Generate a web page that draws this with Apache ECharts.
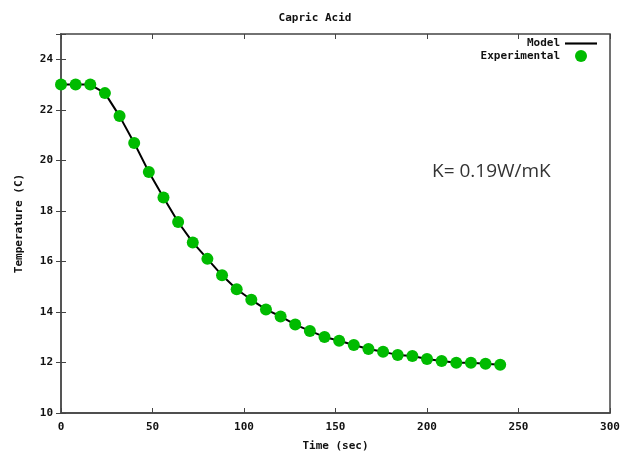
<!DOCTYPE html>
<html><head><meta charset="utf-8">
<script src="https://cdn.jsdelivr.net/npm/echarts@6/dist/echarts.min.js"></script>
<style>html,body{margin:0;padding:0;background:#fff}#c{width:630px;height:457px}</style>
</head><body><div id="c"></div>
<script>
const timeSec = [0,8,16,24,32,40,48,56,64,72,80,88,96,104,112,120,128,136,144,152,160,168,176,184,192,200,208,216,224,232,240];
const experimental = [23.0,23.0,23.0,22.66,21.75,20.69,19.54,18.53,17.56,16.75,16.1,15.45,14.9,14.48,14.1,13.82,13.5,13.25,13.01,12.86,12.69,12.53,12.42,12.3,12.26,12.14,12.06,11.99,11.99,11.95,11.91];
const model = [23.0,23.0,23.0,22.66,21.75,20.69,19.54,18.53,17.56,16.75,16.1,15.45,14.9,14.48,14.1,13.82,13.5,13.25,13.01,12.86,12.69,12.53,12.42,12.3,12.26,12.14,12.06,11.99,11.99,11.95,11.91];
const xTicks = [0,50,100,150,200,250,300];
const yTicks = [10,12,14,16,18,20,22,24];

const mono = '"DejaVu Sans Mono", "Liberation Mono", monospace';
const chart = echarts.init(document.getElementById('c'), null, {renderer:'canvas'});
const pair = (xs, ys) => xs.map((x,i)=>[x, ys[i]]);
const lbl = {fontFamily: mono, fontWeight: 'bold', fontSize: 11, color: '#111'};
chart.setOption({
  animation: false,
  backgroundColor: '#fff',
  title: {text: 'Capric Acid', left: 'center', top: 8,
    textStyle: {fontFamily: mono, fontWeight: 'bold', fontSize: 11, color: '#111'}},
  grid: {left: 61, right: 20, top: 34, bottom: 37, show: true, borderColor: '#444', borderWidth: 1.5},
  legend: {
    orient: 'vertical', right: 33, top: 38, align: 'right', itemGap: 1, padding: 0,
    itemWidth: 32, itemHeight: 12,
    textStyle: {fontFamily: mono, fontWeight: 'bold', fontSize: 11, color: '#111'},
    data: [
      {name: 'Model', icon: 'path://M0,0 L30,0 L30,2 L0,2 Z', itemStyle: {color: '#000'}},
      {name: 'Experimental', icon: 'circle'}
    ]
  },
  xAxis: [{
    type: 'value', min: 0, max: 300, interval: 50,
    name: 'Time (sec)', nameLocation: 'middle', nameGap: 28,
    nameTextStyle: lbl,
    axisLine: {show: true, lineStyle: {color: '#444', width: 1.5}},
    axisTick: {inside: true, length: 5, lineStyle: {color: '#444'}},
    axisLabel: Object.assign({margin: 9}, lbl),
    splitLine: {show: false}
  },{
    type: 'value', position: 'top', min: 0, max: 300, interval: 50,
    axisLine: {show: false}, axisTick: {inside: true, length: 5, lineStyle: {color: '#444'}},
    axisLabel: {show: false}, splitLine: {show: false}
  }],
  yAxis: [{
    type: 'value', min: 10, max: 25, interval: 2,
    name: 'Temperature (C)', nameLocation: 'middle', nameGap: 36, nameRotate: 90,
    nameTextStyle: lbl,
    axisLine: {show: true, lineStyle: {color: '#555', width: 2}},
    axisTick: {inside: true, length: 5, lineStyle: {color: '#444'}},
    axisLabel: Object.assign({margin: 8, formatter: v => yTicks.includes(v) ? String(v) : ''}, lbl),
    splitLine: {show: false}
  },{
    type: 'value', position: 'right', min: 10, max: 25, interval: 2,
    axisLine: {show: false}, axisTick: {inside: true, length: 5, lineStyle: {color: '#444'}},
    axisLabel: {show: false}, splitLine: {show: false}
  }],
  graphic: [{
    type: 'text', left: 432, top: 162,
    style: {text: 'K= 0.19W/mK', font: '19px "Open Sans", "Liberation Sans", sans-serif', fill: '#333'}
  }],
  series: [{
    name: 'Model', type: 'line', data: pair(timeSec, model), showSymbol: false, symbol: 'none',
    lineStyle: {color: '#000', width: 2}, itemStyle: {color: '#000'}, z: 2
  },{
    name: 'Experimental', type: 'scatter', data: pair(timeSec, experimental),
    symbolSize: 12, itemStyle: {color: '#00bb00', opacity: 1}, z: 3
  }]
});
</script></body></html>
